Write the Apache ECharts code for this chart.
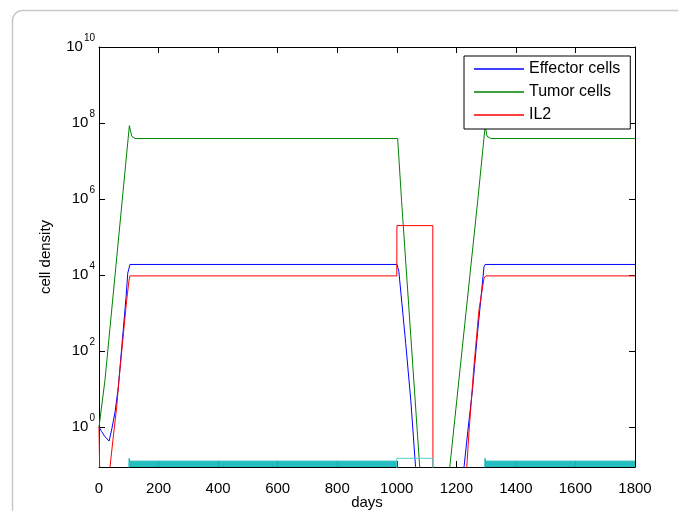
<!DOCTYPE html>
<html>
<head>
<meta charset="utf-8">
<script src="https://cdn.jsdelivr.net/npm/echarts@6/dist/echarts.min.js"></script>
<style>html,body{margin:0;padding:0;background:#fff}#chart{width:678px;height:511px}</style>
</head>
<body>
<div id="chart"></div>
<script>
// ---- data (cell densities; y axis is log10) ----
const xTicks = [0, 200, 400, 600, 800, 1000, 1200, 1400, 1600, 1800];
const yTickExponents = [0, 2, 4, 6, 8, 10];
const seriesNames = ['Effector cells', 'Tumor cells', 'IL2'];

const effectorDays = [0, 9, 20, 34, 43, 54, 65, 91, 96.5, 104, 1001, 1007, 1030, 1047, 1063, 1070, 1218, 1226, 1239, 1254, 1271, 1282, 1293, 1297, 1800];
const effectorVals = [1, 0.76, 0.56, 0.43, 0.89, 2.5, 11.5, 2700, 11200, 19000, 19000, 12300, 160, 5.1, 0.091, 0.02, 0.02, 0.091, 0.83, 9.3, 290, 2200, 16600, 19000, 19000];

const tumorDays = [0, 20, 102, 110, 121, 1003, 1016, 1077, 1085, 1170, 1178, 1272, 1297, 1303, 1316, 1800];
const tumorVals = [1, 17, 8.5e7, 4.5e7, 3.9e7, 3.9e7, 9.3e5, 0.089, 0.011, 0.011, 0.089, 9.3e5, 8.5e7, 4.5e7, 3.9e7, 3.9e7];

const il2Days = [0, 5, 6, 36, 37, 48, 59.5, 67, 93, 101, 104, 1000, 1000.5, 1121, 1121.5, 1234, 1235, 1243, 1259, 1276, 1293, 1299, 1800];
const il2Vals = [1, 1, 0.001, 0.001, 0.089, 0.56, 3.4, 17, 2200, 7400, 9500, 9500, 2e5, 2e5, 0.001, 0.001, 0.089, 0.83, 39, 1200, 8300, 9500, 9500];

const cyanBand1Days = [100, 101, 104, 1000, 1000.5];
const cyanBand1Vals = [0.05, 0.151, 0.127, 0.127, 0.05];
const cyanBand2Days = [1295, 1296, 1299, 1800];
const cyanBand2Vals = [0.05, 0.151, 0.127, 0.127];
const cyanPulseDays = [1000, 1000, 1121, 1121];
const cyanPulseVals = [0.05, 0.151, 0.151, 0.05];

// ---- build ----
const FONT = '"Liberation Sans", Arial, Helvetica, sans-serif';
const toPts = (d, v) => d.map((x, i) => [x, Math.log10(v[i])]);

const chart = echarts.init(document.getElementById('chart'), null, {renderer: 'canvas'});

const lineSeries = (name, d, v, color, extra) => Object.assign({
  name, type: 'line', data: toPts(d, v), symbol: 'none', showSymbol: false,
  lineStyle: {color, width: 1}, itemStyle: {color}, clip: true, animation: false,
  xAxisIndex: 0, yAxisIndex: 0
}, extra || {});

const option = {
  animation: false,
  backgroundColor: '#fff',
  textStyle: {fontFamily: FONT},
  graphic: [{
    type: 'rect', z: -10, silent: true,
    shape: {x: 12.5, y: 10.5, width: 720, height: 620, r: 10},
    style: {fill: 'none', stroke: '#c8c8c8', lineWidth: 1.5}
  }],
  grid: {left: 99, right: 43, top: 47, bottom: 44, containLabel: false, outerBoundsMode: 'none'},
  legend: {
    data: seriesNames, orient: 'vertical', left: 464, top: 56,
    padding: [4, 10, 5, 10], itemGap: 5, itemWidth: 50, itemHeight: 1.5, icon: 'rect',
    backgroundColor: '#fff', borderColor: '#000', borderWidth: 1, borderRadius: 0,
    textStyle: {fontSize: 16, lineHeight: 18, color: '#000', fontFamily: FONT},
    z: 20
  },
  xAxis: [{
    type: 'value', min: 0, max: 1800, interval: 200, position: 'bottom',
    name: 'days', nameLocation: 'middle', nameGap: 28, nameMoveOverlap: false,
    nameTextStyle: {fontSize: 15, color: '#000', fontFamily: FONT},
    axisLine: {onZero: false, lineStyle: {color: '#000', width: 1}},
    axisTick: {inside: true, length: 6, lineStyle: {color: '#000'}},
    axisLabel: {margin: 14, fontSize: 15, color: '#000', fontFamily: FONT, formatter: v => String(v)},
    splitLine: {show: false}
  }, {
    type: 'value', min: 0, max: 1800, interval: 200, position: 'top',
    axisLine: {onZero: false, lineStyle: {color: '#000', width: 1}},
    axisTick: {inside: true, length: 6, lineStyle: {color: '#000'}},
    axisLabel: {show: false}, splitLine: {show: false}
  }],
  yAxis: [{
    type: 'value', min: -1.05, max: 10, position: 'left',
    name: 'cell density', nameLocation: 'middle', nameGap: 46, nameMoveOverlap: false,
    nameTextStyle: {fontSize: 15, color: '#000', fontFamily: FONT},
    axisLine: {onZero: false, lineStyle: {color: '#000', width: 1}},
    axisTick: {inside: true, length: 6, customValues: yTickExponents, lineStyle: {color: '#000'}},
    axisLabel: {
      margin: 4, customValues: yTickExponents, color: '#000',
      formatter: v => '{b|10}{s|' + v + '}',
      rich: {
        b: {fontSize: 15, lineHeight: 16, color: '#000', fontFamily: FONT},
        s: {fontSize: 10, lineHeight: 10, padding: [0, 0, 18, 1], color: '#000', fontFamily: FONT}
      }
    },
    splitLine: {show: false}
  }, {
    type: 'value', min: -1.05, max: 10, position: 'right',
    axisLine: {onZero: false, lineStyle: {color: '#000', width: 1}},
    axisTick: {inside: true, length: 6, customValues: yTickExponents, lineStyle: {color: '#000'}},
    axisLabel: {show: false}, splitLine: {show: false}
  }],
  series: [
    lineSeries('Effector cells', effectorDays, effectorVals, '#0000ff'),
    lineSeries('Tumor cells', tumorDays, tumorVals, '#008000'),
    lineSeries('IL2', il2Days, il2Vals, '#ff0000'),
    lineSeries('cyan1', cyanBand1Days, cyanBand1Vals, '#19baba', {areaStyle: {color: '#19baba', opacity: 0.95, origin: 'start'}}),
    lineSeries('cyan2', cyanBand2Days, cyanBand2Vals, '#19baba', {areaStyle: {color: '#19baba', opacity: 0.95, origin: 'start'}}),
    lineSeries('cyan3', cyanPulseDays, cyanPulseVals, '#55cccc')
  ]
};
chart.setOption(option);
</script>
</body>
</html>
